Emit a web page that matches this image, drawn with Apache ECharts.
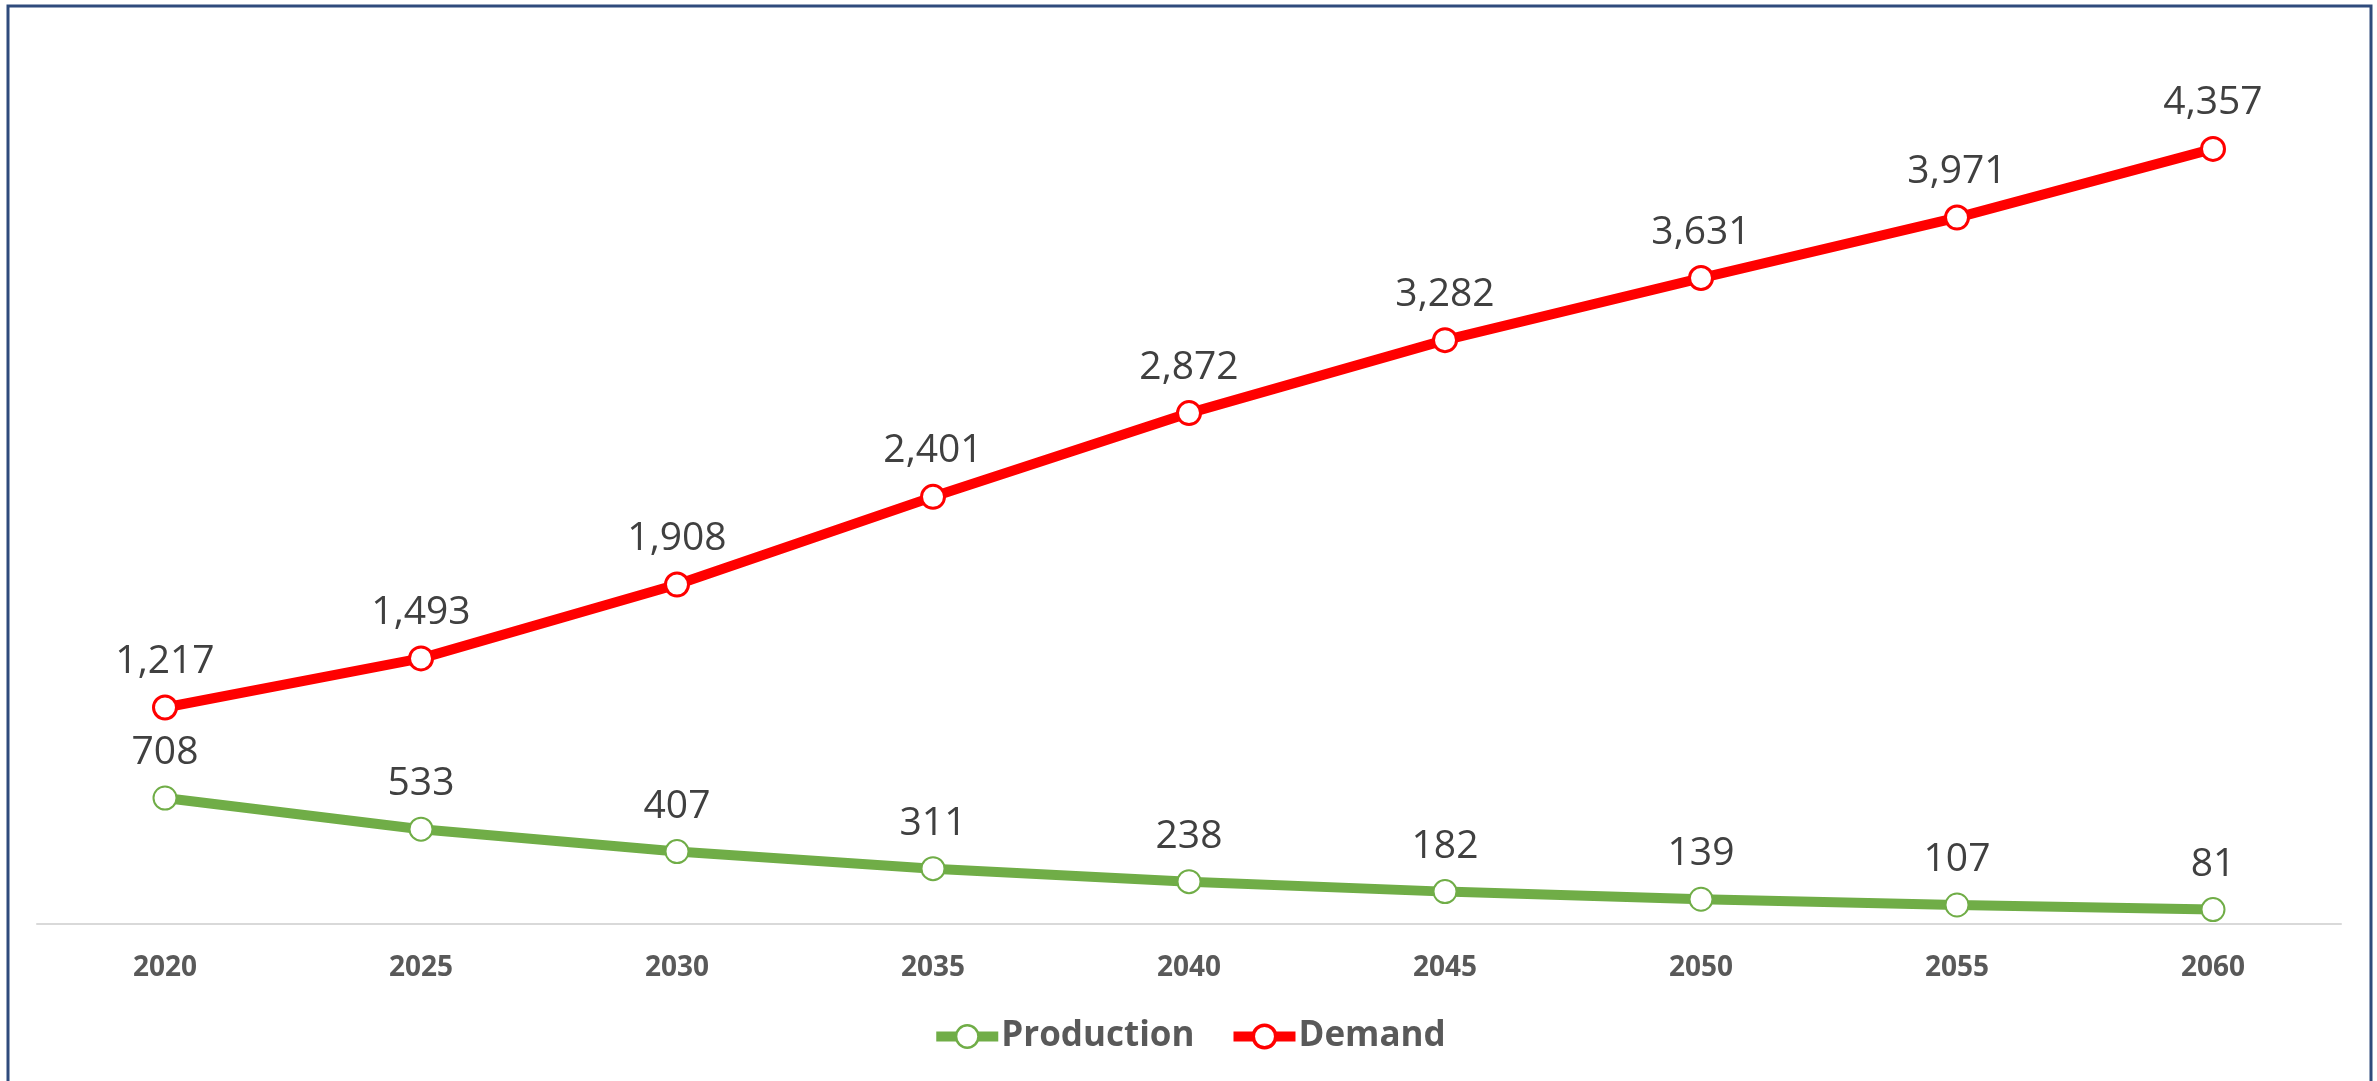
<!DOCTYPE html>
<html>
<head>
<meta charset="utf-8">
<script src="https://cdn.jsdelivr.net/npm/echarts@6/dist/echarts.min.js"></script>
<style>
html,body{margin:0;padding:0;background:#fff;}
#c{width:2377px;height:1081px;}
</style>
</head>
<body>
<div id="c"></div>
<script>
const categories = ['2020','2025','2030','2035','2040','2045','2050','2055','2060'];
const production = [708,533,407,311,238,182,139,107,81];
const demand = [1217,1493,1908,2401,2872,3282,3631,3971,4357];

const chart = echarts.init(document.getElementById('c'));
const labelStyle = {
  show: true, position: 'top', distance: 13,
  fontFamily: 'Open Sans', fontSize: 39, color: '#404040',
  formatter: p => p.value.toLocaleString('en-US')
};
chart.setOption({
  animation: false,
  backgroundColor: '#fff',
  graphic: [{
    type: 'rect', silent: true, z: 100,
    shape: {x: 8, y: 6, width: 2363, height: 1100},
    style: {fill: 'none', stroke: '#2F4B7C', lineWidth: 3}
  }],
  grid: {left: 37, right: 36, top: 34.5, bottom: 157, containLabel: false},
  legend: {
    left: 'center', top: 1014, itemGap: 34, itemWidth: 62, itemHeight: 28,
    textStyle: {fontFamily: 'Open Sans', fontWeight: 'bold', fontSize: 35, color: '#595959', padding: [0,0,0,-2]},
    data: [
      {name: 'Production', lineStyle: {width: 10, color: '#70AD47'}, itemStyle: {color: '#fff', borderColor: '#70AD47', borderWidth: 2.5}},
      {name: 'Demand', lineStyle: {width: 10, color: '#FF0000'}, itemStyle: {color: '#fff', borderColor: '#FF0000', borderWidth: 3.5}}
    ]
  },
  xAxis: {
    type: 'category', data: categories, boundaryGap: true,
    axisLine: {lineStyle: {color: '#D9D9D9', width: 2}},
    axisTick: {show: false},
    axisLabel: {fontFamily: 'Open Sans', fontWeight: 'bold', fontSize: 28, color: '#595959', margin: 30}
  },
  yAxis: {type: 'value', min: 0, max: 5000, show: false, splitLine: {show: false}},
  series: [
    {
      name: 'Production', type: 'line', data: production,
      symbol: 'circle', symbolSize: 23,
      lineStyle: {color: '#70AD47', width: 10},
      itemStyle: {color: '#fff', borderColor: '#70AD47', borderWidth: 2},
      label: labelStyle
    },
    {
      name: 'Demand', type: 'line', data: demand,
      symbol: 'circle', symbolSize: 23,
      lineStyle: {color: '#FF0000', width: 10},
      itemStyle: {color: '#fff', borderColor: '#FF0000', borderWidth: 3},
      label: labelStyle
    }
  ]
});
</script>
</body>
</html>
